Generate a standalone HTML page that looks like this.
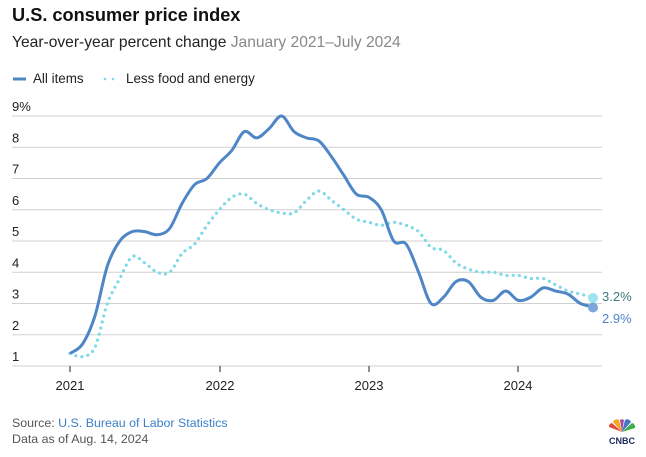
<!DOCTYPE html>
<html><head><meta charset="utf-8"><style>
body{margin:0;width:646px;height:457px;background:#fff;font-family:"Liberation Sans",sans-serif;overflow:hidden;position:relative}
.t{position:absolute;left:12px;top:5px;font-size:18.2px;font-weight:bold;color:#111}
.s{position:absolute;left:12px;top:34px;font-size:15.6px;color:#222}
.s span{color:#888}
.f{position:absolute;left:12px;font-size:12.4px;color:#555}
</style></head><body>
<div class="t">U.S. consumer price index</div>
<div class="s">Year-over-year percent change <span>January 2021–July 2024</span></div>
<svg width="646" height="457" style="position:absolute;left:0;top:0" font-family="Liberation Sans, sans-serif">
<line x1="13" y1="79" x2="26" y2="79" stroke="#4f86c6" stroke-width="3"/>
<text x="33" y="83" font-size="13.4" fill="#222">All items</text>
<circle cx="105" cy="79" r="1.3" fill="#7dd9e8"/><circle cx="113" cy="79" r="1.3" fill="#7dd9e8"/>
<text x="126" y="83" font-size="13.4" fill="#222">Less food and energy</text>
<g id="grid" stroke="#d0d0d0" stroke-width="1"></g>
<g id="yl" font-size="13" fill="#222"></g>
<g font-size="13" fill="#222" text-anchor="middle">
<line x1="70" y1="366" x2="70" y2="372" stroke="#222"/><text x="70" y="390">2021</text>
<line x1="220" y1="366" x2="220" y2="372" stroke="#222"/><text x="220" y="390">2022</text>
<line x1="369" y1="366" x2="369" y2="372" stroke="#222"/><text x="369" y="390">2023</text>
<line x1="518" y1="366" x2="518" y2="372" stroke="#222"/><text x="518" y="390">2024</text>
</g>
<path id="core" fill="none" stroke="#7dd9e8" stroke-width="3.2" stroke-linecap="round" stroke-dasharray="0 6.2"/>
<path id="all" fill="none" stroke="#4f86c6" stroke-width="3"/>
<circle cx="593" cy="298" r="5" fill="#9fe3ee"/>
<circle cx="593" cy="307.5" r="5" fill="#7ea6da"/>
<text x="602" y="301" font-size="13" fill="#3d7a7a">3.2%</text>
<text x="602" y="323" font-size="13" fill="#4f86c6">2.9%</text>
</svg>
<div class="f" style="top:416px">Source: <span style="color:#3a7fc9">U.S. Bureau of Labor Statistics</span></div>
<div class="f" style="top:432px">Data as of Aug. 14, 2024</div>
<svg width="30" height="30" style="position:absolute;left:607px;top:418px">
<path d="M15 14 L6 4 A4 4 0 0 1 12 2Z" fill="#f5a623"/>
<path d="M15 14 L13 2 A3 3 0 0 1 17 2Z" fill="#a14aa3"/>
<path d="M15 14 L18 2 A4 4 0 0 1 24 4Z" fill="#4a76c9"/>
<path d="M15 14 L2 9 A4 4 0 0 1 5 5Z" fill="#e24b3b"/>
<path d="M15 14 L25 5 A4 4 0 0 1 28 10Z" fill="#3fae49"/>
<text x="15" y="26" font-size="9" font-weight="bold" fill="#1b2a5a" text-anchor="middle">CNBC</text>
</svg>
<script>
var g=document.getElementById('grid'),yl=document.getElementById('yl'),ns='http://www.w3.org/2000/svg';
for(var v=1;v<=9;v++){var y=366-(v-1)*31.25;var l=document.createElementNS(ns,'line');l.setAttribute('x1',12);l.setAttribute('x2',602);l.setAttribute('y1',y);l.setAttribute('y2',y);g.appendChild(l);
var t=document.createElementNS(ns,'text');t.setAttribute('x',12);t.setAttribute('y',y-5);t.textContent=v==9?'9%':v;yl.appendChild(t);}
var A=[1.4,1.7,2.6,4.2,5.0,5.3,5.3,5.2,5.4,6.2,6.8,7.0,7.5,7.9,8.5,8.3,8.6,9.0,8.5,8.3,8.2,7.7,7.1,6.5,6.4,6.0,5.0,4.9,4.0,3.0,3.2,3.7,3.7,3.2,3.1,3.4,3.1,3.2,3.5,3.4,3.3,3.0,2.9];
var C=[1.4,1.3,1.6,3.0,3.8,4.5,4.3,4.0,4.0,4.6,4.9,5.5,6.0,6.4,6.5,6.2,6.0,5.9,5.9,6.3,6.6,6.3,6.0,5.7,5.6,5.5,5.6,5.5,5.3,4.8,4.7,4.3,4.1,4.0,4.0,3.9,3.9,3.8,3.8,3.6,3.4,3.3,3.2];
function path(d){var p=d.map(function(v,i){return[70+i*12.45,366-(v-1)*31.25]});var s='M'+p[0][0]+','+p[0][1];
for(var i=0;i<p.length-1;i++){var p0=p[i-1]||p[i],p1=p[i],p2=p[i+1],p3=p[i+2]||p2;
s+='C'+(p1[0]+(p2[0]-p0[0])/6)+','+(p1[1]+(p2[1]-p0[1])/6)+' '+(p2[0]-(p3[0]-p1[0])/6)+','+(p2[1]-(p3[1]-p1[1])/6)+' '+p2[0]+','+p2[1];}return s;}
document.getElementById('all').setAttribute('d',path(A));
document.getElementById('core').setAttribute('d',path(C));
</script>
</body></html>
